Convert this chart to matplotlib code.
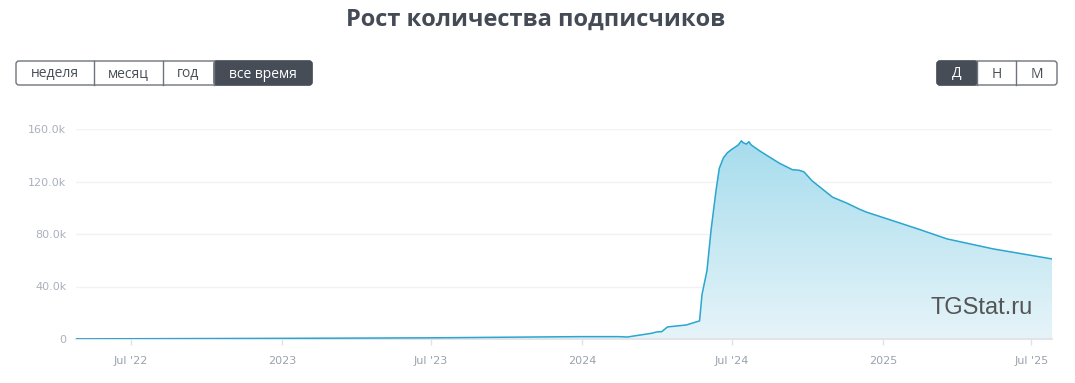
import numpy as np
import pandas as pd
import matplotlib
matplotlib.use("Agg")
import matplotlib.pyplot as plt
import matplotlib.dates as mdates
from matplotlib.patches import FancyBboxPatch
from matplotlib.colors import LinearSegmentedColormap

# subscriber counts
dates = ["2022-04-25", "2022-07-01", "2023-01-01", "2023-07-01", "2023-12-28",
         "2024-02-15", "2024-02-25", "2024-03-01", "2024-03-26", "2024-04-01",
         "2024-04-07", "2024-04-14", "2024-05-07", "2024-05-23", "2024-05-26",
         "2024-06-01", "2024-06-06", "2024-06-12", "2024-06-16", "2024-06-21",
         "2024-06-26", "2024-07-01", "2024-07-09", "2024-07-13", "2024-07-15",
         "2024-07-19", "2024-07-22", "2024-07-25", "2024-08-04", "2024-08-28",
         "2024-09-13", "2024-09-21", "2024-09-27", "2024-10-07", "2024-11-01",
         "2024-11-18", "2024-12-04", "2024-12-12", "2025-01-09", "2025-02-15",
         "2025-03-20", "2025-05-15", "2025-07-26"]
subs = [100, 200, 500, 900, 1800,
        1800, 1500, 2000, 4400, 5400,
        5600, 9200, 10700, 13800, 34000,
        52000, 83000, 113000, 130000, 138000,
        142000, 144400, 147800, 151000, 149600,
        148500, 150300, 147800, 143400, 134000,
        129000, 128600, 127400, 120500, 108000,
        103600, 98800, 96700, 91000, 83400,
        76300, 68700, 61000]

x_ticks = ["2022-07-01", "2023-01-01", "2023-07-01", "2024-01-01",
           "2024-07-01", "2025-01-01", "2025-07-01"]
x_labels = ["Jul '22", "2023", "Jul '23", "2024", "Jul '24", "2025", "Jul '25"]
y_ticks = [0, 40000, 80000, 120000, 160000]
y_labels = ["0", "40.0k", "80.0k", "120.0k", "160.0k"]

period_buttons = ["неделя", "месяц", "год", "все время"]
step_buttons = ["Д", "Н", "М"]

W, H = 1075, 383
fig = plt.figure(figsize=(W / 100, H / 100), dpi=100)

# background layer in pixel coordinates for the title and buttons
bg = fig.add_axes([0, 0, 1, 1])
bg.set_xlim(0, W)
bg.set_ylim(H, 0)
bg.axis("off")

bg.text(536, 20, "Рост количества подписчиков", ha="center", va="center",
        fontsize=17, fontweight="bold", color="#454b56", family="Open Sans")

dark = "#474d57"
border = "#6f747c"


def button_group(x0, edges, labels, active):
    y0, h = 61, 24
    bg.add_patch(FancyBboxPatch((x0, y0), edges[-1] - x0, h,
                                boxstyle="round,pad=0,rounding_size=3",
                                fc="white", ec=border, lw=1, zorder=1))
    lefts = [x0] + edges[:-1]
    for i, (l, r, lab) in enumerate(zip(lefts, edges, labels)):
        if i == active:
            bg.add_patch(FancyBboxPatch((l, y0), r - l, h,
                                        boxstyle="round,pad=0,rounding_size=3",
                                        fc=dark, ec=dark, lw=1, zorder=2))
        if i > 0:
            bg.plot([l, l], [y0, y0 + h], color=border, lw=1, zorder=3)
        bg.text((l + r) / 2, y0 + h / 2 + 1, lab, ha="center", va="center",
                fontsize=10, color="white" if i == active else "#4a4f57",
                family="Open Sans", zorder=4)


button_group(16, [94, 163, 214, 312], period_buttons, 3)
button_group(937, [977, 1016, 1057], step_buttons, 0)

# main chart
ax = fig.add_axes([76 / W, 1 - 339 / H, (1052 - 76) / W, (339 - 129) / H])
x = mdates.date2num(pd.to_datetime(dates))
y = np.array(subs)

ax.set_xlim(mdates.date2num(pd.Timestamp("2022-04-25")),
            mdates.date2num(pd.Timestamp("2025-07-26")))
ax.set_ylim(0, 160000)

poly = ax.fill_between(x, y, 0, color="none", lw=0)
cmap = LinearSegmentedColormap.from_list("fade", ["#e6f4f9", "#a3dbec"])
grad = np.linspace(0, 1, 256).reshape(-1, 1)
img = ax.imshow(grad, cmap=cmap, aspect="auto", origin="lower",
                extent=[x[0], x[-1], 0, 160000], vmin=0, vmax=1, zorder=1)
img.set_clip_path(poly.get_paths()[0], transform=ax.transData)
ax.plot(x, y, color="#2aa6cf", lw=1.1, zorder=3)

ax.set_yticks(y_ticks)
ax.set_yticklabels(y_labels)
ax.set_xticks(mdates.date2num(pd.to_datetime(x_ticks)))
ax.set_xticklabels(x_labels)
ax.grid(axis="y", color="#f2f2f4", lw=1, zorder=0)
ax.set_axisbelow(True)

for s in ["top", "right", "left"]:
    ax.spines[s].set_visible(False)
ax.spines["bottom"].set_color("#e0e2e8")
ax.spines["bottom"].set_linewidth(1.3)
ax.tick_params(axis="y", length=0, pad=7, labelsize=8, labelcolor="#aab1bd")
ax.tick_params(axis="x", length=4, width=1, color="#e0e2e8", pad=8,
               labelsize=8, labelcolor="#9aa2ae")

ax.text(0.98, 0.15, "TGStat.ru", transform=ax.transAxes, ha="right",
        va="center", fontsize=17, color="#555555", family="Liberation Sans",
        zorder=5)

fig.savefig("out.png", dpi=100)
